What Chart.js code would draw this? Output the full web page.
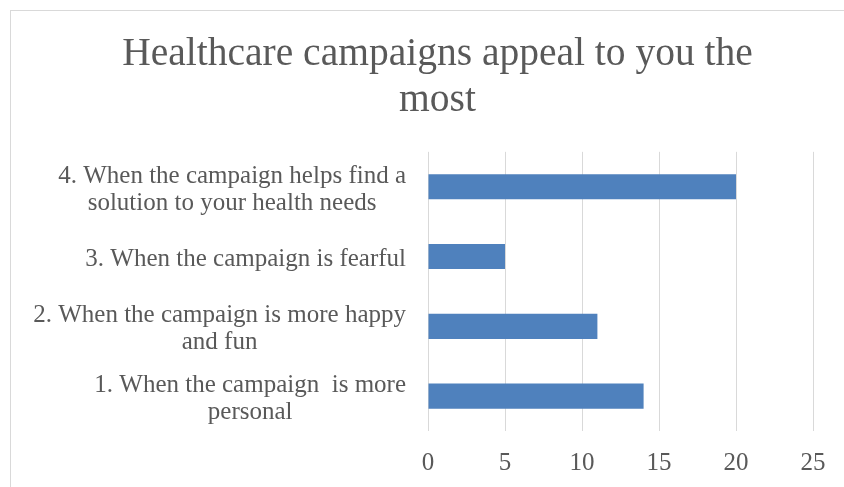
<!DOCTYPE html>
<html>
<head>
<meta charset="utf-8">
<script src="https://cdn.jsdelivr.net/npm/chart.js@4/dist/chart.umd.min.js"></script>
<style>
  html, body { margin: 0; padding: 0; background: #fff; overflow: hidden; }
  #frame {
    position: absolute; left: 10px; top: 10px;
    width: 900px; height: 600px;
    border: 1px solid #d9d9d9;
  }
  #chartContainer {
    position: absolute; left: 0; top: 0;
    width: 844px; height: 487px;
  }
</style>
</head>
<body>
<div id="frame"></div>
<div id="chartContainer"><canvas id="bar-chart"></canvas></div>
<script>
// survey answers, bottom row first
var categories = [
    ['1. When the campaign  is more', 'personal'],
    ['2. When the campaign is more happy', 'and fun'],
    ['3. When the campaign is fearful'],
    ['4. When the campaign helps find a', 'solution to your health needs']
];
var responses = [14, 11, 5, 20];
var xTicks = [0, 5, 10, 15, 20, 25];
var chartTitle = ['Healthcare campaigns appeal to you the', 'most'];

var textColor = '#595959';
var gridColor = '#d9d9d9';
var labelFont = '25px "Liberation Serif"';

// category labels: each block right-aligned to the axis, lines centred inside it
var centeredLabels = {
    id: 'centeredLabels',
    afterDraw: function(chart) {
        var ctx = chart.ctx;
        var yScale = chart.scales.y;
        var lineHeight = 27;
        ctx.save();
        ctx.font = labelFont;
        ctx.fillStyle = textColor;
        ctx.textAlign = 'center';
        ctx.textBaseline = 'middle';
        chart.data.labels.forEach(function(label, i) {
            var lines = Array.isArray(label) ? label : [label];
            var widest = 0;
            lines.forEach(function(ln) {
                widest = Math.max(widest, ctx.measureText(ln).width);
            });
            var cx = chart.chartArea.left - 22 - widest / 2;
            var cy = yScale.getPixelForValue(i) + 3;
            lines.forEach(function(ln, k) {
                ctx.fillText(ln, cx, cy + (k - (lines.length - 1) / 2) * lineHeight);
            });
        });
        ctx.restore();
    }
};

var ctx = document.getElementById('bar-chart').getContext('2d');
var chart = new Chart(ctx, {
    type: 'bar',
    data: {
        labels: categories,
        datasets: [{
            data: responses,
            backgroundColor: '#4f81bd',
            borderWidth: 0,
            barPercentage: 0.36,
            categoryPercentage: 1
        }]
    },
    options: {
        indexAxis: 'y',
        responsive: true,
        maintainAspectRatio: false,
        animation: false,
        layout: {
            padding: { left: 62, right: 31, top: 0, bottom: 0 }
        },
        plugins: {
            legend: { display: false },
            tooltip: { enabled: false },
            title: {
                display: true,
                text: chartTitle,
                color: textColor,
                font: { family: '"Liberation Serif"', size: 39.5, weight: 'normal', lineHeight: 1.15 },
                padding: { top: 32, bottom: 29 }
            }
        },
        scales: {
            x: {
                min: 0,
                max: 25,
                afterBuildTicks: function(scale) {
                    scale.ticks = xTicks.map(function(v) { return { value: v }; });
                },
                afterFit: function(scale) {
                    scale.height = 56;
                },
                grid: { color: gridColor, lineWidth: 1, drawTicks: false },
                border: { display: false },
                ticks: {
                    color: textColor,
                    padding: 17,
                    font: { family: '"Liberation Serif"', size: 25, lineHeight: 1.2 }
                }
            },
            y: {
                reverse: true,
                grid: { display: false },
                border: { display: false },
                ticks: { display: false },
                afterFit: function(scale) {
                    scale.width = 366;
                }
            }
        }
    },
    plugins: [centeredLabels]
});
</script>
</body>
</html>
